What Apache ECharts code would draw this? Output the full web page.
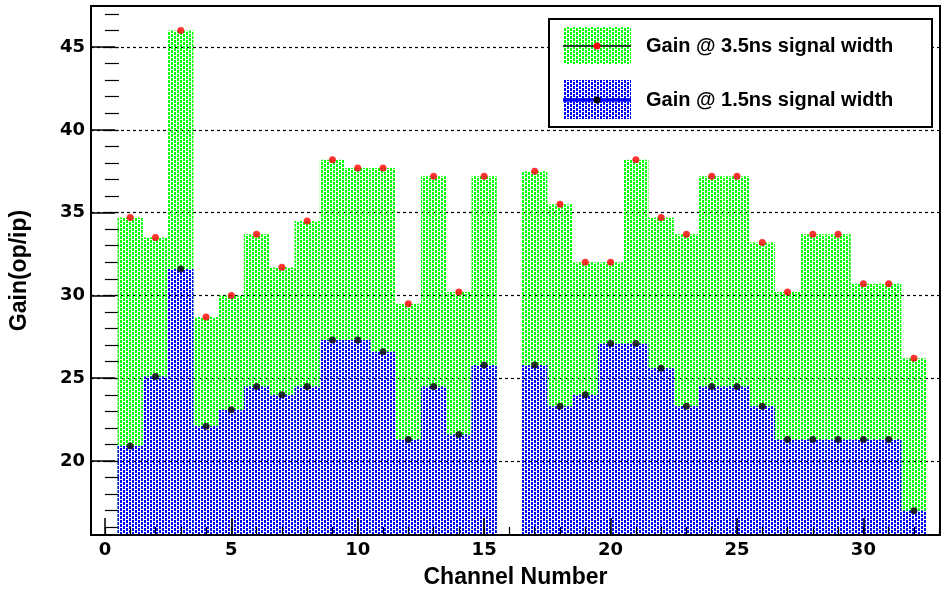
<!DOCTYPE html>
<html>
<head>
<meta charset="utf-8">
<script src="https://cdn.jsdelivr.net/npm/echarts@6/dist/echarts.min.js"></script>
<style>html,body{margin:0;padding:0;background:#fff;}#c{width:943px;height:592px;}</style>
</head>
<body>
<div id="c"></div>
<script>
// ---- data ----
const channels = [1,2,3,4,5,6,7,8,9,10,11,12,13,14,15,17,18,19,20,21,22,23,24,25,26,27,28,29,30,31,32];
const gain35 = [34.7,33.5,46.0,28.7,30.0,33.7,31.7,34.5,38.2,37.7,37.7,29.5,37.2,30.2,37.2,
                37.5,35.5,32.0,32.0,38.2,34.7,33.7,37.2,37.2,33.2,30.2,33.7,33.7,30.7,30.7,26.2];
const gain15 = [20.9,25.1,31.6,22.1,23.1,24.5,24.0,24.5,27.3,27.3,26.6,21.3,24.5,21.6,25.8,
                25.8,23.3,24.0,27.1,27.1,25.6,23.3,24.5,24.5,23.3,21.3,21.3,21.3,21.3,21.3,17.0];
const yMajorTicks = [20,25,30,35,40,45];
const yMinorTicks = [16,17,18,19,20,21,22,23,24,25,26,27,28,29,30,31,32,33,34,35,36,37,38,39,40,41,42,43,44,45,46,47];
const xMajorTicks = [0,5,10,15,20,25,30];
const xMinorTicks = [0,1,2,3,4,5,6,7,8,9,10,11,12,13,14,15,16,17,18,19,20,21,22,23,24,25,26,27,28,29,30,31,32,33];
const legendNames = ['Gain @ 3.5ns signal width', 'Gain @ 1.5ns signal width'];

const X_MIN = -0.55, X_MAX = 33.03, Y_MIN = 15.53, Y_MAX = 47.48;

function makePattern(color) {
  const c = document.createElement('canvas');
  c.width = 6; c.height = 4;
  const ctx = c.getContext('2d');
  ctx.fillStyle = color;
  for (let x = 0; x < 6; x++) for (let y = 0; y < 4; y++) {
    const g = Math.floor(x / 3), col = x % 3;
    if (col === 2) continue;
    if ((y + g * 2) % 4 === 3) continue;
    ctx.fillRect(x, y, 1, 1);
  }
  return { image: c, repeat: 'repeat' };
}
const greenPat = makePattern('#00ff00');
const bluePat = makePattern('#0000ff');

function barRenderer(pattern) {
  return function (params, api) {
    const x = api.value(0), v = api.value(1);
    const p1 = api.coord([x - 0.5, v]);
    const p2 = api.coord([x + 0.5, Y_MIN]);
    return {
      type: 'rect',
      shape: { x: p1[0], y: p1[1], width: p2[0] - p1[0], height: p2[1] - p1[1] },
      style: { fill: pattern }
    };
  };
}

const d35 = channels.map((c, i) => [c, gain35[i]]);
const d15 = channels.map((c, i) => [c, gain15[i]]);

const tickFont = { fontFamily: 'DejaVu Sans', fontWeight: 'bold', fontSize: 18, color: '#000' };
const titleFont = { fontFamily: 'Liberation Sans', fontWeight: 'bold', fontSize: 23, color: '#000' };
const legFont = 'bold 20px "Liberation Sans"';

const chart = echarts.init(document.getElementById('c'), null, { renderer: 'canvas' });
chart.setOption({
  animation: false,
  backgroundColor: '#fff',
  grid: { left: 91, right: 3, top: 6, bottom: 57, show: true, borderColor: '#000', borderWidth: 2, backgroundColor: 'transparent', outerBoundsMode: 'none' },
  xAxis: [{
    type: 'value', min: X_MIN, max: X_MAX, position: 'bottom', z: 10,
    axisLine: { show: true, onZero: false, lineStyle: { color: '#000', width: 2 } },
    axisTick: { show: true, inside: true, length: 17, customValues: xMajorTicks, lineStyle: { color: '#000', width: 1.5 } },
    axisLabel: Object.assign({ customValues: xMajorTicks, margin: 6 }, tickFont),
    splitLine: { show: false },
    name: 'Channel Number', nameLocation: 'middle', nameGap: 31, nameTextStyle: titleFont
  }, {
    type: 'value', min: X_MIN, max: X_MAX, position: 'bottom', z: 10,
    axisLine: { show: false },
    axisTick: { show: true, inside: true, length: 8, customValues: xMinorTicks, lineStyle: { color: '#000', width: 1.2 } },
    axisLabel: { show: false },
    splitLine: { show: false }
  }],
  yAxis: [{
    type: 'value', min: Y_MIN, max: Y_MAX, position: 'left',
    axisLine: { show: true, onZero: false, lineStyle: { color: '#000', width: 2 } },
    axisTick: { show: true, inside: true, length: 24, customValues: yMajorTicks, lineStyle: { color: '#000', width: 1.5 } },
    axisLabel: Object.assign({ customValues: yMajorTicks, margin: 6 }, tickFont),
    splitLine: { show: true, lineStyle: { color: '#000', width: 1.2, type: [3, 3] } },
    name: 'Gain(op/ip)', nameLocation: 'middle', nameGap: 60, nameTextStyle: titleFont
  }, {
    type: 'value', min: Y_MIN, max: Y_MAX, position: 'left',
    axisLine: { show: false },
    axisTick: { show: true, inside: true, length: 14, customValues: yMinorTicks, lineStyle: { color: '#000', width: 1.2 } },
    axisLabel: { show: false },
    splitLine: { show: false }
  }],
  series: [
    { name: legendNames[0], type: 'custom', renderItem: barRenderer(greenPat), data: d35, xAxisIndex: 0, yAxisIndex: 0, z: 2 },
    { name: legendNames[0], type: 'scatter', data: d35, symbol: 'circle', symbolSize: 7, itemStyle: { color: '#ff0000' }, z: 3 },
    { name: legendNames[1], type: 'custom', renderItem: barRenderer(bluePat), data: d15, xAxisIndex: 0, yAxisIndex: 0, z: 4 },
    { name: legendNames[1], type: 'scatter', data: d15, symbol: 'circle', symbolSize: 7, itemStyle: { color: '#000' }, z: 5 }
  ],
  graphic: [
    { type: 'rect', z: 100, shape: { x: 549, y: 19, width: 383, height: 108 }, style: { fill: '#fff', stroke: '#000', lineWidth: 2 } },
    { type: 'rect', z: 101, shape: { x: 563, y: 27, width: 68, height: 37 }, style: { fill: greenPat } },
    { type: 'line', z: 102, shape: { x1: 563, y1: 46, x2: 631, y2: 46 }, style: { stroke: '#000', lineWidth: 1.5 } },
    { type: 'circle', z: 103, shape: { cx: 597, cy: 46, r: 3.5 }, style: { fill: '#ff0000' } },
    { type: 'rect', z: 101, shape: { x: 563, y: 80, width: 68, height: 39 }, style: { fill: bluePat } },
    { type: 'line', z: 102, shape: { x1: 563, y1: 100, x2: 631, y2: 100 }, style: { stroke: '#0000ff', lineWidth: 3.5 } },
    { type: 'circle', z: 103, shape: { cx: 597, cy: 100, r: 3.5 }, style: { fill: '#000' } },
    { type: 'text', z: 103, x: 646, y: 46, style: { text: legendNames[0], font: legFont, fill: '#000', verticalAlign: 'middle' } },
    { type: 'text', z: 103, x: 646, y: 100, style: { text: legendNames[1], font: legFont, fill: '#000', verticalAlign: 'middle' } }
  ]
});
</script>
</body>
</html>
